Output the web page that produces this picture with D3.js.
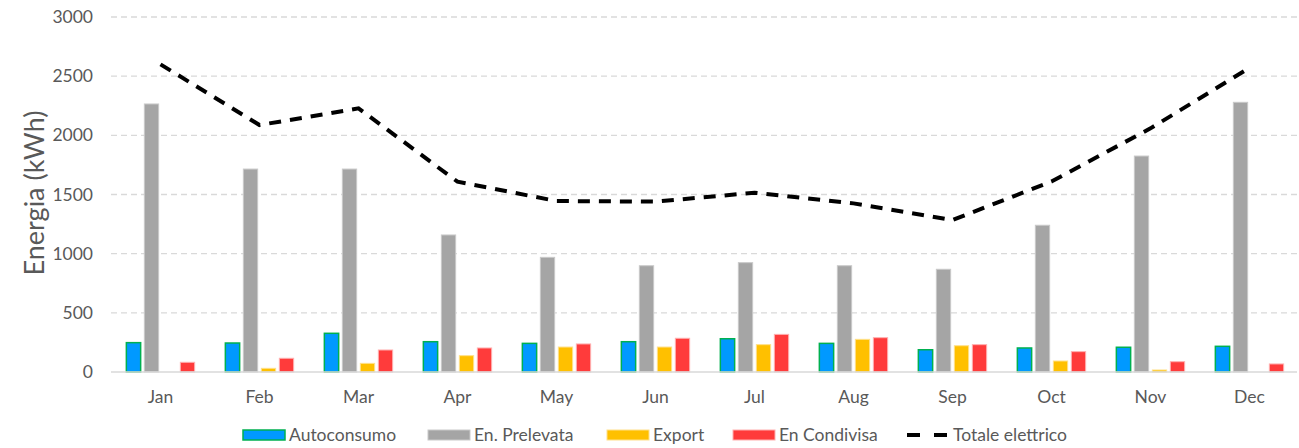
<!DOCTYPE html>
<html>
<head>
<meta charset="utf-8">
<script src="https://cdn.jsdelivr.net/npm/d3@7"></script>
<style>
  body { margin: 0; background: #fff; }
  svg text { font-family: Lato, "Open Sans", sans-serif; fill: #595959; }
</style>
</head>
<body>
<div id="chart"></div>
<script>
var months = ["Jan", "Feb", "Mar", "Apr", "May", "Jun", "Jul", "Aug", "Sep", "Oct", "Nov", "Dec"];
var autoconsumo = [248, 245, 327, 256, 242, 256, 281, 242, 188, 203, 209, 217];
var prelevata = [2265, 1715, 1715, 1158, 969, 898, 924, 898, 868, 1240, 1825, 2279];
var exportEn = [0, 31, 73, 138, 211, 211, 231, 276, 222, 93, 17, 0];
var condivisa = [82, 116, 186, 203, 237, 285, 318, 290, 231, 172, 87, 68];
var totale = [2600, 2087, 2228, 1608, 1445, 1440, 1515, 1425, 1284, 1610, 2059, 2570];
var yTicks = [0, 500, 1000, 1500, 2000, 2500, 3000];

var series = [
    { name: "Autoconsumo", values: autoconsumo, fill: "#0099FF", stroke: "#00B050" },
    { name: "En. Prelevata", values: prelevata, fill: "#A5A5A5", stroke: "#C9C9C9" },
    { name: "Export", values: exportEn, fill: "#FFC000", stroke: "#FFE08A" },
    { name: "En Condivisa", values: condivisa, fill: "#FF3B3B", stroke: "#FFB0B0" }
];

var width = 1299, height = 448;
var margin = {left: 111, right: 0, top: 17, bottom: 76};

var svg = d3.select("#chart").append("svg")
    .attr("width", width)
    .attr("height", height);

var x0 = d3.scaleBand()
    .domain(months)
    .range([margin.left, width - margin.right])
    .paddingInner(0.3)
    .paddingOuter(0.15);

var x1 = d3.scaleBand()
    .domain(series.map(function(s) { return s.name; }))
    .range([0, x0.bandwidth()])
    .paddingInner(0.15);

var y = d3.scaleLinear()
    .domain([0, 3000])
    .range([height - margin.bottom, margin.top]);

// gridlines
svg.append("g")
  .selectAll("line")
  .data(yTicks.slice(1))
  .enter().append("line")
    .attr("x1", margin.left)
    .attr("x2", width - 2)
    .attr("y1", function(d) { return y(d); })
    .attr("y2", function(d) { return y(d); })
    .attr("stroke", "#D9D9D9")
    .attr("stroke-width", 1.3)
    .attr("stroke-dasharray", "6,4");

// y tick labels
svg.append("g")
  .selectAll("text")
  .data(yTicks)
  .enter().append("text")
    .attr("x", 93)
    .attr("y", function(d) { return y(d); })
    .attr("dy", "0.35em")
    .attr("text-anchor", "end")
    .attr("font-size", 17.5)
    .text(function(d) { return d; });

// bars
var groups = svg.append("g")
  .selectAll("g")
  .data(months)
  .enter().append("g")
    .attr("transform", function(d) { return "translate(" + x0(d) + ",0)"; });

groups.selectAll("rect")
  .data(function(m, i) {
      return series.map(function(s) { return {key: s.name, value: s.values[i], fill: s.fill, stroke: s.stroke}; });
  })
  .enter().append("rect")
    .filter(function(d) { return d.value > 0; })
    .attr("x", function(d) { return x1(d.key) + 0.5; })
    .attr("y", function(d) { return y(d.value); })
    .attr("width", x1.bandwidth() - 1)
    .attr("height", function(d) { return y(0) - y(d.value); })
    .attr("fill", function(d) { return d.fill; })
    .attr("stroke", function(d) { return d.stroke; })
    .attr("stroke-width", function(d) { return d.key === "Autoconsumo" ? 1.5 : 1; });

// baseline
svg.append("line")
    .attr("x1", margin.left)
    .attr("x2", width - 2)
    .attr("y1", y(0))
    .attr("y2", y(0))
    .attr("stroke", "#D9D9D9")
    .attr("stroke-width", 1.5);

// month labels
svg.append("g")
  .selectAll("text")
  .data(months)
  .enter().append("text")
    .attr("x", function(d) { return x0(d) + x0.bandwidth() / 2; })
    .attr("y", 397)
    .attr("dy", "0.35em")
    .attr("text-anchor", "middle")
    .attr("font-size", 17.5)
    .text(function(d) { return d; });

// totale line
var line = d3.line()
    .x(function(d, i) { return x0(months[i]) + x0.bandwidth() / 2; })
    .y(function(d) { return y(d); });

svg.append("path")
    .datum(totale)
    .attr("d", line)
    .attr("fill", "none")
    .attr("stroke", "#000")
    .attr("stroke-width", 4)
    .attr("stroke-dasharray", "12,9");

// y axis title
svg.append("text")
    .attr("transform", "translate(44," + 193 + ") rotate(-90)")
    .attr("text-anchor", "middle")
    .attr("font-size", 27)
    .text("Energia (kWh)");

// legend
var legendItems = [
    { name: "Autoconsumo", x: 243, s: series[0] },
    { name: "En. Prelevata", x: 428, s: series[1] },
    { name: "Export", x: 607, s: series[2] },
    { name: "En Condivisa", x: 733, s: series[3] },
    { name: "Totale elettrico", x: 907, s: null }
];

var legend = svg.append("g")
  .selectAll("g")
  .data(legendItems)
  .enter().append("g")
    .attr("transform", function(d) { return "translate(" + d.x + ",435)"; });

legend.filter(function(d) { return d.s; })
  .append("rect")
    .attr("x", 0)
    .attr("y", -5)
    .attr("width", 42)
    .attr("height", 10)
    .attr("fill", function(d) { return d.s.fill; })
    .attr("stroke", function(d) { return d.s.stroke; })
    .attr("stroke-width", function(d) { return d.name === "Autoconsumo" ? 1.5 : 1; });

legend.filter(function(d) { return !d.s; })
  .append("line")
    .attr("x1", 0)
    .attr("x2", 42)
    .attr("y1", 0)
    .attr("y2", 0)
    .attr("stroke", "#000")
    .attr("stroke-width", 4)
    .attr("stroke-dasharray", "13,14");

legend.append("text")
    .attr("x", 46)
    .attr("y", 0)
    .attr("dy", "0.35em")
    .attr("font-size", 17.5)
    .text(function(d) { return d.name; });
</script>
</body>
</html>
